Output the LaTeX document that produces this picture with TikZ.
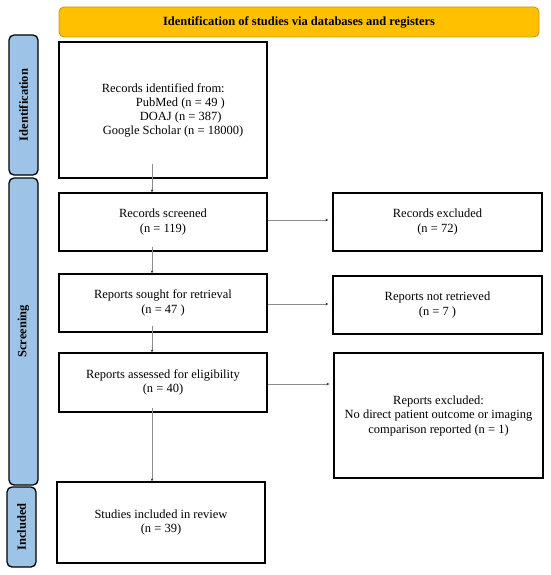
\documentclass[tikz,border=0pt]{standalone}
\usepackage{fontspec}
\setmainfont{Liberation Serif}
\usetikzlibrary{arrows.meta}
\definecolor{barblue}{HTML}{9DC3E6}
\definecolor{baryellow}{HTML}{FFC000}
\definecolor{baryellowd}{HTML}{C99A10}
\definecolor{linegray}{HTML}{8C8C8C}
\begin{document}
\begin{tikzpicture}[x=1pt,y=-1pt,
  box/.style={draw=black,line width=1.3pt,inner sep=0pt,align=center,
    font=\fontsize{12.5}{14.5}\selectfont},
  txt/.style={inner sep=0pt,align=left,font=\fontsize{12.5}{14}\selectfont},
  sidebar/.style={draw=black,line width=1.3pt,fill=barblue,rounded corners=5pt,
    inner sep=0pt,font=\bfseries\fontsize{12.5}{14}\selectfont},
  topbar/.style={draw=baryellowd,line width=0.9pt,fill=baryellow,rounded corners=5pt,
    inner sep=0pt,font=\bfseries\fontsize{12.5}{14}\selectfont},
  arr/.style={draw=linegray,line width=0.8pt,-{Stealth[length=3pt,width=2.6pt,black!80]}}]
\useasboundingbox (0,0) rectangle (550,575);
% top bar
\node[topbar,minimum width=480pt,minimum height=30pt] (top) at (299,22)
  {Identification of studies via databases and registers};
% side bars
\node[sidebar,minimum width=29pt,minimum height=140pt] (sid) at (23.5,105) {};
\node[rotate=90,font=\bfseries\fontsize{12.5}{14}\selectfont,inner sep=0pt] (sidl) at (sid.center) {Identification};
\node[sidebar,minimum width=29pt,minimum height=307pt] (sscr) at (23.5,331.5) {};
\node[rotate=90,font=\bfseries\fontsize{12.5}{14}\selectfont,inner sep=0pt] (sscrl) at (sscr.center) {Screening};
\node[sidebar,minimum width=29pt,minimum height=80pt] (sinc) at (21.5,527) {};
\node[rotate=90,font=\bfseries\fontsize{12.5}{14}\selectfont,inner sep=0pt] (sincl) at (sinc.center) {Included};
% left column
\node[box,minimum width=208pt,minimum height=136pt] (rid) at (163,110) {};
\node[txt] (ridt) at (172.5,110) {Records identified from:\\
  \hspace*{34pt}PubMed (n = 49 )\\
  \hspace*{38pt}DOAJ (n = 387)\\
  \hspace*{1pt}Google Scholar (n = 18000)};
\node[box,minimum width=208pt,minimum height=58pt] (scr) at (163,222) {Records screened\\(n = 119)};
\node[box,minimum width=208pt,minimum height=58pt] (sou) at (163,303) {Reports sought for retrieval\\(n = 47 )};
\node[box,minimum width=208pt,minimum height=59pt] (ass) at (163,382.5) {Reports assessed for eligibility\\(n = 40)};
\node[box,minimum width=208pt,minimum height=81pt] (inc) at (161,522.5) {Studies included in review\\(n = 39)};
% right column
\node[box,minimum width=209pt,minimum height=58pt] (rex) at (437.5,222) {Records excluded\\(n = 72)};
\node[box,minimum width=209pt,minimum height=58pt] (nre) at (437.5,305) {Reports not retrieved\\(n = 7 )};
\node[box,minimum width=209pt,minimum height=125pt] (rep) at (438.5,415.5)
  {Reports excluded:\\No direct patient outcome or imaging\\comparison reported (n = 1)};
% connectors
\coordinate (col) at (152,0);
\draw[arr] ([yshift=15pt]rid.south -| col) -- (scr.north -| col);
\draw[arr] ([yshift=5pt]scr.south -| col) -- (sou.north -| col);
\draw[arr] ([yshift=7pt]sou.south -| col) -- (ass.north -| col);
\draw[arr] ([yshift=5pt]ass.south -| col) -- (inc.north -| col);
\draw[arr,shorten >=4pt] ([yshift=2pt]scr.east) -- ([yshift=2pt]scr.east -| rex.west);
\draw[arr,shorten >=4pt] ([yshift=-1pt]sou.east) -- ([yshift=-1pt]sou.east -| nre.west);
\draw[arr,shorten >=4pt] ([yshift=-1.5pt]ass.east) -- ([yshift=-1.5pt]ass.east -| rep.west);
\end{tikzpicture}
\end{document}
